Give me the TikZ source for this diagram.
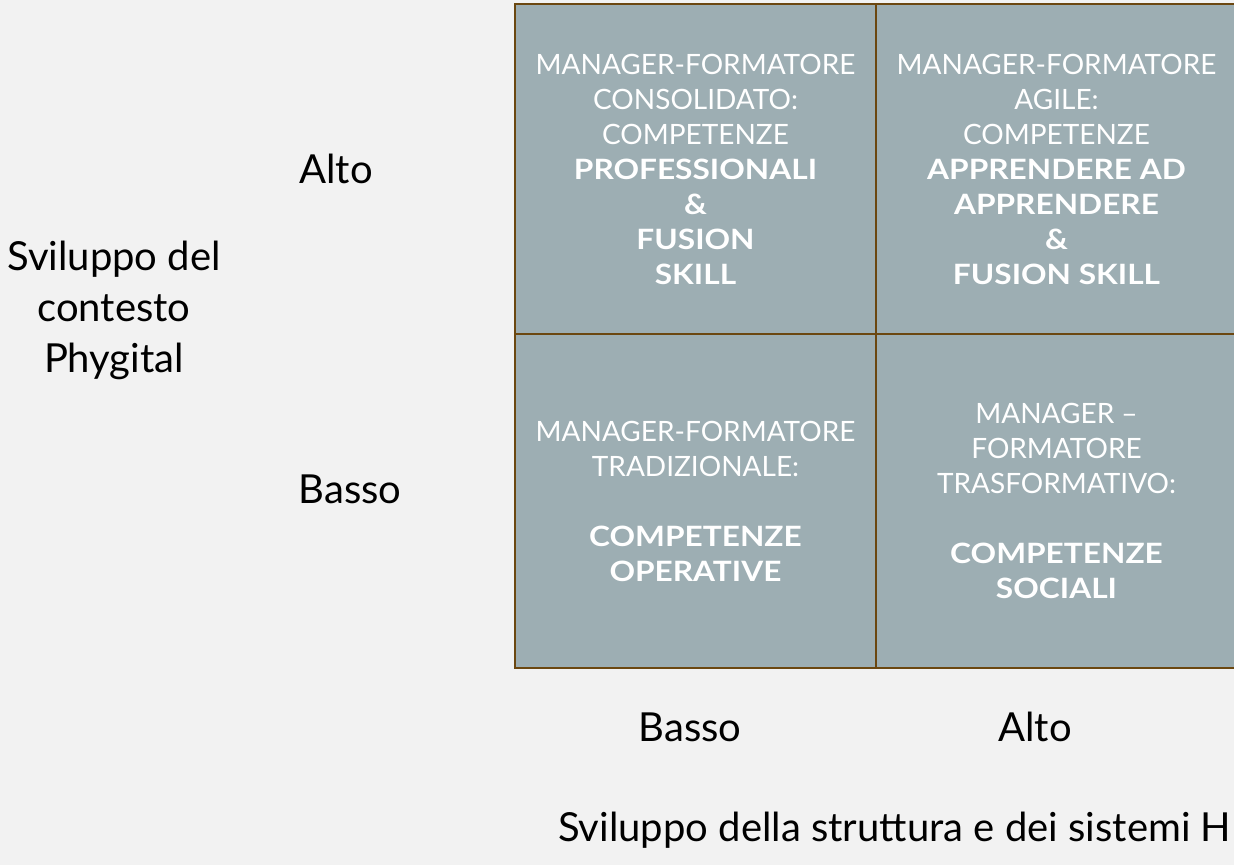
\documentclass[tikz,border=0pt]{standalone}
\usepackage{fontspec}
\setmainfont{Lato}[BoldFeatures={FakeStretch=1.13}]
\definecolor{bgc}{HTML}{F2F2F2}
\definecolor{cellc}{HTML}{9DAEB3}
\definecolor{edgec}{HTML}{6B4710}
\begin{document}
\begin{tikzpicture}[x=1pt,y=-1pt,
  cell/.style={draw=edgec,line width=2.2pt,fill=cellc,text=white,align=center,
    minimum width=361pt,minimum height=330pt,inner sep=0pt,
    font=\fontsize{28}{35}\selectfont},
  lab/.style={text=black,align=center,font=\fontsize{40}{51}\selectfont,inner sep=0pt}]
\useasboundingbox (0,0) rectangle (1234,865);
\fill[bgc] (0,0) rectangle (1234,865);
\begin{scope}
\clip (0,0) rectangle (1234,865);
\node[cell] (tl) at (695.5,169) {MANAGER-FORMATORE\\CONSOLIDATO:\\COMPETENZE\\\textbf{PROFESSIONALI}\\\textbf{\&}\\\textbf{FUSION}\\\textbf{SKILL}};
\node[cell] (tr) at (1056.5,169) {MANAGER-FORMATORE\\AGILE:\\COMPETENZE\\\textbf{APPRENDERE AD}\\\textbf{APPRENDERE}\\\textbf{\&}\\\textbf{FUSION SKILL}};
\node[cell,minimum height=334pt] (bl) at (695.5,501) {MANAGER-FORMATORE\\TRADIZIONALE:\\[35pt]\textbf{COMPETENZE}\\\textbf{OPERATIVE}};
\node[cell,minimum height=334pt] (br) at (1056.5,501) {MANAGER –\\FORMATORE\\TRASFORMATIVO:\\[35pt]\textbf{COMPETENZE}\\\textbf{SOCIALI}};
\end{scope}
\node[lab] (yalto) at (336,169) {Alto};
\node[lab] (ybasso) at (350,489) {Basso};
\node[lab] (ytitle) at (114,310) {Sviluppo del\\contesto\\Phygital};
\node[lab] (xbasso) at (690,727) {Basso};
\node[lab] (xalto) at (1035,727) {Alto};
\node[lab,anchor=west] (xtitle) at (558,830) {Sviluppo della struttura e dei sistemi H};
\end{tikzpicture}
\end{document}
